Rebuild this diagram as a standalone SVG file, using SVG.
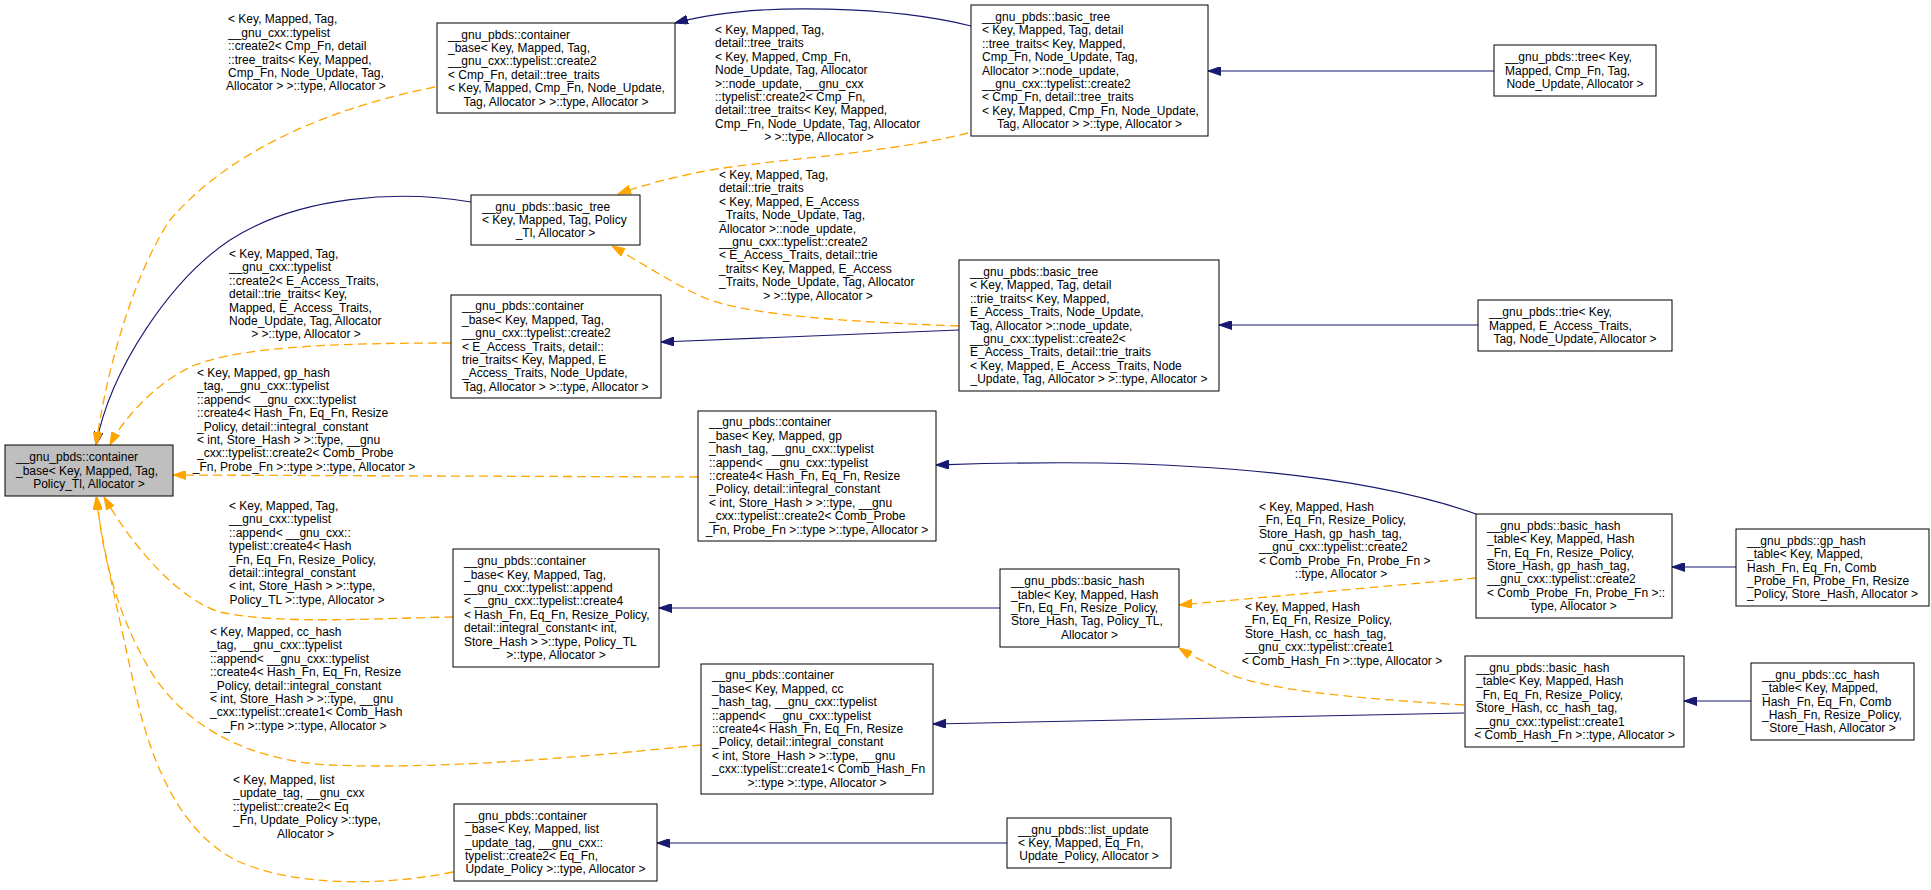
<svg xmlns="http://www.w3.org/2000/svg" width="1931" height="890" viewBox="0 0 1931 890">
<style>
.t{font-family:"Liberation Sans",Arial,Helvetica,sans-serif;font-size:12px;fill:#000}
.m{text-anchor:middle}
.box{fill:#fff;stroke:#000;stroke-width:1}
.root{fill:#bfbfbf;stroke:#000;stroke-width:1}
.eb{fill:none;stroke:#191970;stroke-width:1.1;marker-end:url(#mb)}
.eo{fill:none;stroke:#ffa500;stroke-width:1.3;stroke-dasharray:9,5;marker-end:url(#mo)}
</style>
<defs>
<marker id="mb" viewBox="0 0 13 9" refX="13" refY="4.5" markerWidth="13" markerHeight="9" markerUnits="userSpaceOnUse" orient="auto"><path d="M0,0 L13,4.5 L0,9 Z" fill="#191970" stroke="#191970"/></marker>
<marker id="mo" viewBox="0 0 13 9" refX="13" refY="4.5" markerWidth="13" markerHeight="9" markerUnits="userSpaceOnUse" orient="auto"><path d="M0,0 L13,4.5 L0,9 Z" fill="#ffa500" stroke="#ffa500"/></marker>
</defs>
<rect width="1931" height="890" fill="#fff"/>
<g id="edges">
<path class="eb" d="M971,26 C900,8 760,0 675,23"/>
<path class="eb" d="M471,202 C400,190 300,195 230,240 C170,280 110,370 96,445"/>
<path class="eb" d="M959,330 L661,342"/>
<path class="eb" d="M1478,325 L1219,325"/>
<path class="eb" d="M1494,71 L1208,71"/>
<path class="eb" d="M1476,514 C1380,480 1250,466 1100,463 C1020,462 970,464 936,465"/>
<path class="eb" d="M1736,567 L1672,567"/>
<path class="eb" d="M1000,608 L659,608"/>
<path class="eb" d="M1464,713 L933,724"/>
<path class="eb" d="M1751,701 L1684,701"/>
<path class="eb" d="M1007,843 L657,843"/>
<path class="eo" d="M435,87 C330,108 230,150 170,220 C130,280 105,380 96,445"/>
<path class="eo" d="M968,133 C880,155 760,160 700,172 C670,178 640,186 618,194"/>
<path class="eo" d="M959,326 C850,322 745,315 705,298 C675,285 640,262 612,246"/>
<path class="eo" d="M451,343 C320,343 240,348 195,365 C160,380 125,415 110,445"/>
<path class="eo" d="M698,477 L173,475"/>
<path class="eo" d="M453,617 C380,618 280,625 220,612 C180,600 135,550 104,497"/>
<path class="eo" d="M701,745 C600,755 450,770 330,765 C240,760 180,720 150,670 C120,620 102,560 97,497"/>
<path class="eo" d="M453,872 C390,885 300,888 240,862 C180,835 150,760 135,690 C120,620 103,550 96,497"/>
<path class="eo" d="M1476,578 L1179,605"/>
<path class="eo" d="M1464,705 C1350,698 1260,690 1220,670 C1205,662 1190,655 1179,648"/>
</g>
<g id="edge-labels">
<text class="t"><tspan x="228" y="23.3">&lt; Key, Mapped, Tag,</tspan><tspan x="228" y="36.7">__gnu_cxx::typelist</tspan><tspan x="228" y="50.1">::create2&lt; Cmp_Fn, detail</tspan><tspan x="228" y="63.5">::tree_traits&lt; Key, Mapped,</tspan><tspan x="228" y="76.9">Cmp_Fn, Node_Update, Tag,</tspan><tspan x="306" y="90.3" class="m">Allocator &gt; &gt;::type, Allocator &gt;</tspan></text>
<text class="t"><tspan x="715" y="34">&lt; Key, Mapped, Tag,</tspan><tspan x="715" y="47.4">detail::tree_traits</tspan><tspan x="715" y="60.8">&lt; Key, Mapped, Cmp_Fn,</tspan><tspan x="715" y="74.2">Node_Update, Tag, Allocator</tspan><tspan x="715" y="87.6">&gt;::node_update, __gnu_cxx</tspan><tspan x="715" y="101">::typelist::create2&lt; Cmp_Fn,</tspan><tspan x="715" y="114.4">detail::tree_traits&lt; Key, Mapped,</tspan><tspan x="715" y="127.8">Cmp_Fn, Node_Update, Tag, Allocator</tspan><tspan x="819" y="141.2" class="m">&gt; &gt;::type, Allocator &gt;</tspan></text>
<text class="t"><tspan x="719" y="179">&lt; Key, Mapped, Tag,</tspan><tspan x="719" y="192.4">detail::trie_traits</tspan><tspan x="719" y="205.8">&lt; Key, Mapped, E_Access</tspan><tspan x="719" y="219.2">_Traits, Node_Update, Tag,</tspan><tspan x="719" y="232.6">Allocator &gt;::node_update,</tspan><tspan x="719" y="246">__gnu_cxx::typelist::create2</tspan><tspan x="719" y="259.4">&lt; E_Access_Traits, detail::trie</tspan><tspan x="719" y="272.8">_traits&lt; Key, Mapped, E_Access</tspan><tspan x="719" y="286.2">_Traits, Node_Update, Tag, Allocator</tspan><tspan x="818" y="299.6" class="m">&gt; &gt;::type, Allocator &gt;</tspan></text>
<text class="t"><tspan x="229" y="258">&lt; Key, Mapped, Tag,</tspan><tspan x="229" y="271.4">__gnu_cxx::typelist</tspan><tspan x="229" y="284.8">::create2&lt; E_Access_Traits,</tspan><tspan x="229" y="298.2">detail::trie_traits&lt; Key,</tspan><tspan x="229" y="311.6">Mapped, E_Access_Traits,</tspan><tspan x="229" y="325">Node_Update, Tag, Allocator</tspan><tspan x="306" y="338.4" class="m">&gt; &gt;::type, Allocator &gt;</tspan></text>
<text class="t"><tspan x="197" y="377">&lt; Key, Mapped, gp_hash</tspan><tspan x="197" y="390.4">_tag, __gnu_cxx::typelist</tspan><tspan x="197" y="403.8">::append&lt; __gnu_cxx::typelist</tspan><tspan x="197" y="417.2">::create4&lt; Hash_Fn, Eq_Fn, Resize</tspan><tspan x="197" y="430.6">_Policy, detail::integral_constant</tspan><tspan x="197" y="444">&lt; int, Store_Hash &gt; &gt;::type, __gnu</tspan><tspan x="197" y="457.4">_cxx::typelist::create2&lt; Comb_Probe</tspan><tspan x="304" y="470.8" class="m">_Fn, Probe_Fn &gt;::type &gt;::type, Allocator &gt;</tspan></text>
<text class="t"><tspan x="229" y="510">&lt; Key, Mapped, Tag,</tspan><tspan x="229" y="523.4">__gnu_cxx::typelist</tspan><tspan x="229" y="536.8">::append&lt; __gnu_cxx::</tspan><tspan x="229" y="550.2">typelist::create4&lt; Hash</tspan><tspan x="229" y="563.6">_Fn, Eq_Fn, Resize_Policy,</tspan><tspan x="229" y="577">detail::integral_constant</tspan><tspan x="229" y="590.4">&lt; int, Store_Hash &gt; &gt;::type,</tspan><tspan x="307" y="603.8" class="m">Policy_TL &gt;::type, Allocator &gt;</tspan></text>
<text class="t"><tspan x="210" y="636">&lt; Key, Mapped, cc_hash</tspan><tspan x="210" y="649.4">_tag, __gnu_cxx::typelist</tspan><tspan x="210" y="662.8">::append&lt; __gnu_cxx::typelist</tspan><tspan x="210" y="676.2">::create4&lt; Hash_Fn, Eq_Fn, Resize</tspan><tspan x="210" y="689.6">_Policy, detail::integral_constant</tspan><tspan x="210" y="703">&lt; int, Store_Hash &gt; &gt;::type, __gnu</tspan><tspan x="210" y="716.4">_cxx::typelist::create1&lt; Comb_Hash</tspan><tspan x="305" y="729.8" class="m">_Fn &gt;::type &gt;::type, Allocator &gt;</tspan></text>
<text class="t"><tspan x="233" y="784">&lt; Key, Mapped, list</tspan><tspan x="233" y="797.4">_update_tag, __gnu_cxx</tspan><tspan x="233" y="810.8">::typelist::create2&lt; Eq</tspan><tspan x="233" y="824.2">_Fn, Update_Policy &gt;::type,</tspan><tspan x="305.5" y="837.6" class="m">Allocator &gt;</tspan></text>
<text class="t"><tspan x="1259" y="511">&lt; Key, Mapped, Hash</tspan><tspan x="1259" y="524.4">_Fn, Eq_Fn, Resize_Policy,</tspan><tspan x="1259" y="537.8">Store_Hash, gp_hash_tag,</tspan><tspan x="1259" y="551.2">__gnu_cxx::typelist::create2</tspan><tspan x="1259" y="564.6">&lt; Comb_Probe_Fn, Probe_Fn &gt;</tspan><tspan x="1341" y="578" class="m">::type, Allocator &gt;</tspan></text>
<text class="t"><tspan x="1245" y="611">&lt; Key, Mapped, Hash</tspan><tspan x="1245" y="624.4">_Fn, Eq_Fn, Resize_Policy,</tspan><tspan x="1245" y="637.8">Store_Hash, cc_hash_tag,</tspan><tspan x="1245" y="651.2">__gnu_cxx::typelist::create1</tspan><tspan x="1342" y="664.6" class="m">&lt; Comb_Hash_Fn &gt;::type, Allocator &gt;</tspan></text>
</g>
<g id="node-root">
<rect class="root" x="5" y="445" width="168" height="51"/>
<text class="t"><tspan x="16" y="461.1">__gnu_pbds::container</tspan><tspan x="16" y="474.5">_base&lt; Key, Mapped, Tag,</tspan><tspan x="89" y="487.9" class="m">Policy_Tl, Allocator &gt;</tspan></text>
</g>
<g id="node-container-tree">
<rect class="box" x="437" y="23" width="238" height="90"/>
<text class="t"><tspan x="448" y="38.5">__gnu_pbds::container</tspan><tspan x="448" y="51.9">_base&lt; Key, Mapped, Tag,</tspan><tspan x="448" y="65.3">__gnu_cxx::typelist::create2</tspan><tspan x="448" y="78.7">&lt; Cmp_Fn, detail::tree_traits</tspan><tspan x="448" y="92.1">&lt; Key, Mapped, Cmp_Fn, Node_Update,</tspan><tspan x="556" y="105.5" class="m">Tag, Allocator &gt; &gt;::type, Allocator &gt;</tspan></text>
</g>
<g id="node-basic-tree-tree">
<rect class="box" x="971" y="5" width="237" height="131"/>
<text class="t"><tspan x="982" y="20.9">__gnu_pbds::basic_tree</tspan><tspan x="982" y="34.3">&lt; Key, Mapped, Tag, detail</tspan><tspan x="982" y="47.7">::tree_traits&lt; Key, Mapped,</tspan><tspan x="982" y="61.1">Cmp_Fn, Node_Update, Tag,</tspan><tspan x="982" y="74.5">Allocator &gt;::node_update,</tspan><tspan x="982" y="87.9">__gnu_cxx::typelist::create2</tspan><tspan x="982" y="101.3">&lt; Cmp_Fn, detail::tree_traits</tspan><tspan x="982" y="114.7">&lt; Key, Mapped, Cmp_Fn, Node_Update,</tspan><tspan x="1089.5" y="128.1" class="m">Tag, Allocator &gt; &gt;::type, Allocator &gt;</tspan></text>
</g>
<g id="node-tree">
<rect class="box" x="1494" y="45" width="162" height="51"/>
<text class="t"><tspan x="1505" y="61.1">__gnu_pbds::tree&lt; Key,</tspan><tspan x="1505" y="74.5">Mapped, Cmp_Fn, Tag,</tspan><tspan x="1575" y="87.9" class="m">Node_Update, Allocator &gt;</tspan></text>
</g>
<g id="node-basic-tree-policy">
<rect class="box" x="471" y="195" width="169" height="50"/>
<text class="t"><tspan x="482" y="210.6">__gnu_pbds::basic_tree</tspan><tspan x="482" y="224">&lt; Key, Mapped, Tag, Policy</tspan><tspan x="555.5" y="237.4" class="m">_Tl, Allocator &gt;</tspan></text>
</g>
<g id="node-container-trie">
<rect class="box" x="451" y="295" width="210" height="103"/>
<text class="t"><tspan x="462" y="310.3">__gnu_pbds::container</tspan><tspan x="462" y="323.7">_base&lt; Key, Mapped, Tag,</tspan><tspan x="462" y="337.1">__gnu_cxx::typelist::create2</tspan><tspan x="462" y="350.5">&lt; E_Access_Traits, detail::</tspan><tspan x="462" y="363.9">trie_traits&lt; Key, Mapped, E</tspan><tspan x="462" y="377.3">_Access_Traits, Node_Update,</tspan><tspan x="556" y="390.7" class="m">Tag, Allocator &gt; &gt;::type, Allocator &gt;</tspan></text>
</g>
<g id="node-basic-tree-trie">
<rect class="box" x="959" y="260" width="260" height="131"/>
<text class="t"><tspan x="970" y="275.9">__gnu_pbds::basic_tree</tspan><tspan x="970" y="289.3">&lt; Key, Mapped, Tag, detail</tspan><tspan x="970" y="302.7">::trie_traits&lt; Key, Mapped,</tspan><tspan x="970" y="316.1">E_Access_Traits, Node_Update,</tspan><tspan x="970" y="329.5">Tag, Allocator &gt;::node_update,</tspan><tspan x="970" y="342.9">__gnu_cxx::typelist::create2&lt;</tspan><tspan x="970" y="356.3">E_Access_Traits, detail::trie_traits</tspan><tspan x="970" y="369.7">&lt; Key, Mapped, E_Access_Traits, Node</tspan><tspan x="1089" y="383.1" class="m">_Update, Tag, Allocator &gt; &gt;::type, Allocator &gt;</tspan></text>
</g>
<g id="node-trie">
<rect class="box" x="1478" y="300" width="194" height="51"/>
<text class="t"><tspan x="1489" y="316.1">__gnu_pbds::trie&lt; Key,</tspan><tspan x="1489" y="329.5">Mapped, E_Access_Traits,</tspan><tspan x="1575" y="342.9" class="m">Tag, Node_Update, Allocator &gt;</tspan></text>
</g>
<g id="node-container-gp">
<rect class="box" x="698" y="411" width="238" height="130"/>
<text class="t"><tspan x="709" y="426.4">__gnu_pbds::container</tspan><tspan x="709" y="439.8">_base&lt; Key, Mapped, gp</tspan><tspan x="709" y="453.2">_hash_tag, __gnu_cxx::typelist</tspan><tspan x="709" y="466.6">::append&lt; __gnu_cxx::typelist</tspan><tspan x="709" y="480">::create4&lt; Hash_Fn, Eq_Fn, Resize</tspan><tspan x="709" y="493.4">_Policy, detail::integral_constant</tspan><tspan x="709" y="506.8">&lt; int, Store_Hash &gt; &gt;::type, __gnu</tspan><tspan x="709" y="520.2">_cxx::typelist::create2&lt; Comb_Probe</tspan><tspan x="817" y="533.6" class="m">_Fn, Probe_Fn &gt;::type &gt;::type, Allocator &gt;</tspan></text>
</g>
<g id="node-basic-hash-gp">
<rect class="box" x="1476" y="514" width="196" height="104"/>
<text class="t"><tspan x="1487" y="529.8">__gnu_pbds::basic_hash</tspan><tspan x="1487" y="543.2">_table&lt; Key, Mapped, Hash</tspan><tspan x="1487" y="556.6">_Fn, Eq_Fn, Resize_Policy,</tspan><tspan x="1487" y="570">Store_Hash, gp_hash_tag,</tspan><tspan x="1487" y="583.4">__gnu_cxx::typelist::create2</tspan><tspan x="1487" y="596.8">&lt; Comb_Probe_Fn, Probe_Fn &gt;::</tspan><tspan x="1574" y="610.2" class="m">type, Allocator &gt;</tspan></text>
</g>
<g id="node-gp-hash-table">
<rect class="box" x="1736" y="529" width="193" height="77"/>
<text class="t"><tspan x="1747" y="544.7">__gnu_pbds::gp_hash</tspan><tspan x="1747" y="558.1">_table&lt; Key, Mapped,</tspan><tspan x="1747" y="571.5">Hash_Fn, Eq_Fn, Comb</tspan><tspan x="1747" y="584.9">_Probe_Fn, Probe_Fn, Resize</tspan><tspan x="1832.5" y="598.3" class="m">_Policy, Store_Hash, Allocator &gt;</tspan></text>
</g>
<g id="node-basic-hash">
<rect class="box" x="1000" y="569" width="179" height="78"/>
<text class="t"><tspan x="1011" y="585.2">__gnu_pbds::basic_hash</tspan><tspan x="1011" y="598.6">_table&lt; Key, Mapped, Hash</tspan><tspan x="1011" y="612">_Fn, Eq_Fn, Resize_Policy,</tspan><tspan x="1011" y="625.4">Store_Hash, Tag, Policy_TL,</tspan><tspan x="1089.5" y="638.8" class="m">Allocator &gt;</tspan></text>
</g>
<g id="node-basic-hash-cc">
<rect class="box" x="1465" y="656" width="219" height="91"/>
<text class="t"><tspan x="1476" y="672">__gnu_pbds::basic_hash</tspan><tspan x="1476" y="685.4">_table&lt; Key, Mapped, Hash</tspan><tspan x="1476" y="698.8">_Fn, Eq_Fn, Resize_Policy,</tspan><tspan x="1476" y="712.2">Store_Hash, cc_hash_tag,</tspan><tspan x="1476" y="725.6">__gnu_cxx::typelist::create1</tspan><tspan x="1574.5" y="739" class="m">&lt; Comb_Hash_Fn &gt;::type, Allocator &gt;</tspan></text>
</g>
<g id="node-container-cc">
<rect class="box" x="701" y="664" width="232" height="130"/>
<text class="t"><tspan x="712" y="679.4">__gnu_pbds::container</tspan><tspan x="712" y="692.8">_base&lt; Key, Mapped, cc</tspan><tspan x="712" y="706.2">_hash_tag, __gnu_cxx::typelist</tspan><tspan x="712" y="719.6">::append&lt; __gnu_cxx::typelist</tspan><tspan x="712" y="733">::create4&lt; Hash_Fn, Eq_Fn, Resize</tspan><tspan x="712" y="746.4">_Policy, detail::integral_constant</tspan><tspan x="712" y="759.8">&lt; int, Store_Hash &gt; &gt;::type, __gnu</tspan><tspan x="712" y="773.2">_cxx::typelist::create1&lt; Comb_Hash_Fn</tspan><tspan x="817" y="786.6" class="m">&gt;::type &gt;::type, Allocator &gt;</tspan></text>
</g>
<g id="node-cc-hash-table">
<rect class="box" x="1751" y="663" width="163" height="77"/>
<text class="t"><tspan x="1762" y="678.7">__gnu_pbds::cc_hash</tspan><tspan x="1762" y="692.1">_table&lt; Key, Mapped,</tspan><tspan x="1762" y="705.5">Hash_Fn, Eq_Fn, Comb</tspan><tspan x="1762" y="718.9">_Hash_Fn, Resize_Policy,</tspan><tspan x="1832.5" y="732.3" class="m">Store_Hash, Allocator &gt;</tspan></text>
</g>
<g id="node-container-append">
<rect class="box" x="453" y="549" width="206" height="118"/>
<text class="t"><tspan x="464" y="565.1">__gnu_pbds::container</tspan><tspan x="464" y="578.5">_base&lt; Key, Mapped, Tag,</tspan><tspan x="464" y="591.9">__gnu_cxx::typelist::append</tspan><tspan x="464" y="605.3">&lt; __gnu_cxx::typelist::create4</tspan><tspan x="464" y="618.7">&lt; Hash_Fn, Eq_Fn, Resize_Policy,</tspan><tspan x="464" y="632.1">detail::integral_constant&lt; int,</tspan><tspan x="464" y="645.5">Store_Hash &gt; &gt;::type, Policy_TL</tspan><tspan x="556" y="658.9" class="m">&gt;::type, Allocator &gt;</tspan></text>
</g>
<g id="node-container-list">
<rect class="box" x="454" y="804" width="203" height="77"/>
<text class="t"><tspan x="465" y="819.7">__gnu_pbds::container</tspan><tspan x="465" y="833.1">_base&lt; Key, Mapped, list</tspan><tspan x="465" y="846.5">_update_tag, __gnu_cxx::</tspan><tspan x="465" y="859.9">typelist::create2&lt; Eq_Fn,</tspan><tspan x="555.5" y="873.3" class="m">Update_Policy &gt;::type, Allocator &gt;</tspan></text>
</g>
<g id="node-list-update">
<rect class="box" x="1007" y="818" width="164" height="50"/>
<text class="t"><tspan x="1018" y="833.6">__gnu_pbds::list_update</tspan><tspan x="1018" y="847">&lt; Key, Mapped, Eq_Fn,</tspan><tspan x="1089" y="860.4" class="m">Update_Policy, Allocator &gt;</tspan></text>
</g>
</svg>
